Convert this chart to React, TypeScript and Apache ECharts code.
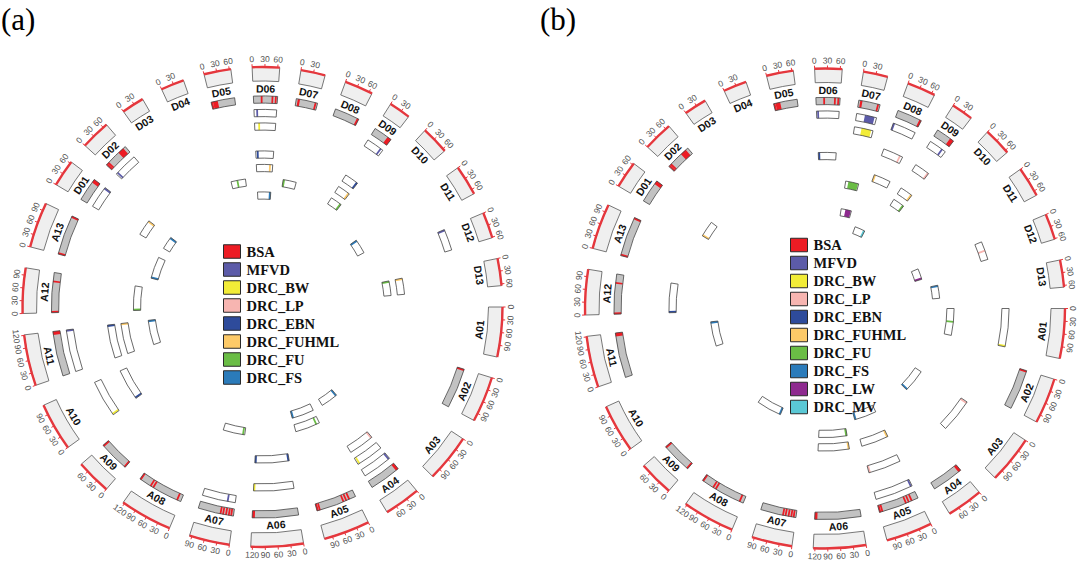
import React, { useEffect, useRef } from 'react';
import * as echarts from 'echarts';

// ---------- data ----------
const CHROMS = ['A01','A02','A03','A04','A05','A06','A07','A08','A09','A10','A11','A12','A13',
  'D01','D02','D03','D04','D05','D06','D07','D08','D09','D10','D11','D12','D13'];
const LENGTHS = [117.8,108.4,113.1,85.6,109.5,124.1,95.7,124.0,83.0,114.1,121.3,107.3,107.9,
  63.9,70.2,53.5,55.3,63.8,64.6,57.8,67.6,51.4,66.5,71.6,61.5,64.2];
const GAP = 50;
const TICK_LABEL_STEP = 30;

const TRACKS_A = ['BSA','MFVD','DRC_BW','DRC_LP','DRC_EBN','DRC_FUHML','DRC_FU','DRC_FS'];
const TRACKS_B = ['BSA','MFVD','DRC_BW','DRC_LP','DRC_EBN','DRC_FUHML','DRC_FU','DRC_FS','DRC_LW','DRC_MV'];

type Band = [string, number, number];

const BSA_BANDS: Band[] = [
  ['D01',54,63.9],
  ['D02',2,4],['D02',7,9],['D02',46,63],
  ['D05',1,2.5],['D05',5,18],
  ['D06',21,23],['D06',50,52],['D06',58,62],
  ['D07',4,10],['D07',51,54],
  ['D08',62,67.6],
  ['D09',40,51.4],
  ['A02',0,5],
  ['A04',0,8],
  ['A05',17,20],['A05',26,28],['A05',34,36],['A05',100,103],['A05',106,109.5],
  ['A06',117,124.1],
  ['A07',5,7],['A07',11.5,13.5],['A07',19,21],['A07',27,29],['A07',34,36],
  ['A08',9,12],['A08',80,84],['A08',88,92],['A08',121,124],
  ['A09',0,2],['A09',81,83],
  ['A11',112,121.3],
  ['A12',0,1.5],['A12',82,85],
  ['A13',0,2],['A13',105,107.9],
];

const A_MFVD: Band[] = [['D01',59,63],['D02',4,7],['D06',8,10],['D09',42,46],['D12',1,4],['A04',2,5],['A07',20,24],['A11',118,121]];
const A_BW: Band[] = [['D06',13,15],['A04',78,83],['A06',120,123],['A10',2,5]];
const A_LP: Band[] = [['A04',2,5]];
const A_EBN: Band[] = [['D06',5,9],['D09',46,50],['A06',1,3],['A06',121,123],['A10',2,5],['A11',118,121]];
const A_FUHML: Band[] = [['D01',58,62],['D06',52,56],['D09',45,49],['D13',1,4],['A11',118,121]];
const A_FU: Band[] = [['D05',26,30],['D07',2,6],['D09',45,49],['D13',1,4],['A05',12,18],['A07',5,10],['A12',0,3]];
const A_FS: Band[] = [['D01',58,62],['D06',60,63],['D11',2,5],['A04',3,6],['A05',103,108],['A11',118,121],['A13',2,5]];

const B_MFVD: Band[] = [['D06',3,6],['D07',24,52],['D08',1,4],['D09',38,42],['A05',2,6]];
const B_BW: Band[] = [['D07',22,52],['A01',113,117]];
const B_LP: Band[] = [['D08',56,60],['D09',48,50],['D12',30,32],['A03',2,6],['A05',104,108]];
const B_EBN: Band[] = [['D06',2,5],['A12',1,4]];
const B_FUHML: Band[] = [['D01',1,5],['D08',1,4],['D09',46,50],['A05',2,6],['A06',1,4]];
const B_FU: Band[] = [['D07',12,55],['D09',46,50],['A01',56,60],['A06',1,4]];
const B_FS: Band[] = [['D13',2,5],['A03',108,112],['A05',104,108],['A08',2,6],['A11',117,120]];
const B_LW: Band[] = [['D07',24,55],['D12',58,61]];
const B_MV: Band[] = [['D08',60,66]];

const BANDS_A: Band[][] = [BSA_BANDS, A_MFVD, A_BW, A_LP, A_EBN, A_FUHML, A_FU, A_FS];
const BANDS_B: Band[][] = [BSA_BANDS, B_MFVD, B_BW, B_LP, B_EBN, B_FUHML, B_FU, B_FS, B_LW, B_MV];

const COLORS: Record<string, string> = {
  BSA: '#ed1c24', MFVD: '#5c5ba8', DRC_BW: '#f2ec37', DRC_LP: '#f7b5b1', DRC_EBN: '#2e4b9b',
  DRC_FUHML: '#fdca68', DRC_FU: '#6abd45', DRC_FS: '#2b7bba', DRC_LW: '#8e2a8f', DRC_MV: '#5ac8d5',
};

// ---------- geometry helpers ----------
const STARTS: number[] = [];
{
  let acc = 0;
  LENGTHS.forEach((l, i) => { STARTS[i] = acc; acc += l + GAP; });
}
const TOTAL = LENGTHS.reduce((a, b) => a + b, 0) + GAP * LENGTHS.length;

const R_IDEO_IN = 226;
const R_IDEO_OUT = 240;
const R_TICKLABEL = 248;
const R_NAME = 218.5;
const TRACK_R = [207.5, 194, 180.5, 166.5, 152.5, 139, 125.5, 111.5, 97.5, 83.5];
const HALF = 3.6;

function polarPt(params: any, api: any, r: number, v: number) {
  const cs = params.coordSys;
  const p = api.coord([r, v]);
  const dx = p[0] - cs.cx, dy = p[1] - cs.cy;
  return { x: p[0], y: p[1], r: Math.hypot(dx, dy), a: Math.atan2(dy, dx) };
}

function sector(params: any, api: any, r0: number, r1: number, v0: number, v1: number, minPx = 0, clampV?: [number, number]) {
  const cs = params.coordSys;
  const pin = polarPt(params, api, r0, v0);
  const p0 = polarPt(params, api, r1, v0);
  const p1 = polarPt(params, api, r1, v1);
  let s = p0.a, e = p1.a;
  if (e < s) e += Math.PI * 2;
  if (minPx && (e - s) * p1.r < minPx) {
    const m = (s + e) / 2, h = minPx / p1.r / 2;
    s = m - h; e = m + h;
    if (clampV) {
      const c0 = polarPt(params, api, r1, clampV[0]).a;
      let c1 = polarPt(params, api, r1, clampV[1]).a;
      if (c1 < c0) c1 += Math.PI * 2;
      while (s < c0 - Math.PI) { s += Math.PI * 2; e += Math.PI * 2; }
      while (s > c0 + Math.PI) { s -= Math.PI * 2; e -= Math.PI * 2; }
      if (s < c0) { e += c0 - s; s = c0; }
      if (e > c1) { s -= e - c1; e = c1; }
    }
  }
  return { cx: cs.cx, cy: cs.cy, r0: pin.r, r: p1.r, startAngle: s, endAngle: e, clockwise: true };
}

function labelRotation(thetaRad: number, lowerHalf: boolean) {
  let t = thetaRad * 180 / Math.PI;
  if (t < 0) t += 360;
  const deg = lowerHalf ? 90 - t : -(t + 90);
  return deg * Math.PI / 180;
}

function isLower(params: any, api: any, v: number) {
  let t = polarPt(params, api, 200, v).a * 180 / Math.PI;
  if (t < 0) t += 360;
  return t >= 0 && t < 180;
}

function ideogramSeries(polarIndex: number) {
  return {
    type: 'custom',
    coordinateSystem: 'polar',
    polarIndex,
    silent: true,
    data: CHROMS.map((_, i) => [i]),
    renderItem: (params: any, api: any) => {
      const i = params.dataIndex;
      const s = STARTS[i];
      const len = LENGTHS[i];
      const e = s + len;
      const children: any[] = [];
      const box = sector(params, api, R_IDEO_IN, R_IDEO_OUT, s, e);
      children.push({ type: 'sector', shape: box, style: { fill: '#efefef', stroke: '#555', lineWidth: 0.8 } });
      children.push({
        type: 'arc',
        shape: { cx: box.cx, cy: box.cy, r: box.r, startAngle: box.startAngle, endAngle: box.endAngle, clockwise: true },
        style: { stroke: '#e5373d', lineWidth: 2.4, fill: 'none' },
      });
      for (let v = 0; v <= len + 1e-6; v += TICK_LABEL_STEP) {
        const a = polarPt(params, api, R_IDEO_OUT, s + v);
        const b = polarPt(params, api, R_IDEO_OUT + 3, s + v);
        children.push({ type: 'line', shape: { x1: a.x, y1: a.y, x2: b.x, y2: b.y }, style: { stroke: '#e5373d', lineWidth: 1 } });
      }
      const lower = isLower(params, api, s + len / 2);
      for (let v = 0; v <= len + 1e-6; v += TICK_LABEL_STEP) {
        const p = polarPt(params, api, R_TICKLABEL, s + v);
        children.push({
          type: 'text', x: p.x, y: p.y, rotation: labelRotation(p.a, lower),
          style: { text: String(v), fill: '#505050', fontSize: 8.5, fontFamily: 'Liberation Sans, Arial, sans-serif', align: 'center', verticalAlign: 'middle' },
        });
      }
      const pn = polarPt(params, api, R_NAME, s + len / 2);
      children.push({
        type: 'text', x: pn.x, y: pn.y, rotation: labelRotation(pn.a, lower),
        style: { text: CHROMS[i], fill: '#111', fontSize: 10.5, fontWeight: 'bold', fontFamily: 'Liberation Sans, Arial, sans-serif', align: 'center', verticalAlign: 'middle' },
      });
      return { type: 'group', children };
    },
  };
}

function trackSeries(polarIndex: number, trackIdx: number, name: string, bands: Band[]) {
  const chromList: string[] = [];
  bands.forEach((b) => { if (!chromList.includes(b[0])) chromList.push(b[0]); });
  const items = chromList.map((c) => ({ chrom: CHROMS.indexOf(c), bands: bands.filter((b) => b[0] === c) }));
  const rc = TRACK_R[trackIdx];
  const isBSA = name === 'BSA';
  const color = COLORS[name];
  return {
    type: 'custom',
    name,
    coordinateSystem: 'polar',
    polarIndex,
    silent: true,
    itemStyle: { color },
    data: items.map((it) => [it.chrom]),
    renderItem: (params: any, api: any) => {
      const it = items[params.dataIndex];
      const s = STARTS[it.chrom];
      const e = s + LENGTHS[it.chrom];
      const box = sector(params, api, rc - HALF, rc + HALF, s, e);
      const children: any[] = [];
      children.push({ type: 'sector', shape: box, style: { fill: isBSA ? '#c2c2c2' : '#ffffff' } });
      it.bands.forEach((b) => {
        const v0 = s + Math.max(0, b[1]);
        const v1 = s + Math.min(LENGTHS[it.chrom], b[2]);
        children.push({ type: 'sector', shape: sector(params, api, rc - HALF, rc + HALF, v0, v1, 1.8, [s, e]), style: { fill: color } });
      });
      children.push({ type: 'sector', shape: box, style: { fill: 'none', stroke: '#444', lineWidth: 0.8 } });
      return { type: 'group', children };
    },
  };
}

const legendBase = {
  orient: 'vertical',
  icon: 'rect',
  itemWidth: 17,
  itemHeight: 13.5,
  itemGap: 3,
  padding: 0,
  selectedMode: false,
  itemStyle: { borderColor: '#2a2a2a', borderWidth: 1 },
  textStyle: { fontFamily: 'Liberation Serif, Times New Roman, serif', fontWeight: 'bold', fontSize: 14.5, color: '#111', padding: [0, 0, 0, 1] },
};

const titleStyle = { fontFamily: 'Liberation Serif, Times New Roman, serif', fontSize: 31, fontWeight: 'normal', color: '#000', lineHeight: 36 };

export default function App() {
  const ref = useRef<HTMLDivElement>(null);
  useEffect(() => {
    if (!ref.current) return;
    const chart = echarts.init(ref.current, undefined, { renderer: 'svg' });
    const series: any[] = [ideogramSeries(0), ideogramSeries(1)];
    TRACKS_A.forEach((n, i) => series.push(trackSeries(0, i, n, BANDS_A[i])));
    TRACKS_B.forEach((n, i) => series.push(trackSeries(1, i, n, BANDS_B[i])));
    chart.setOption({
      animation: false,
      backgroundColor: '#ffffff',
      title: [
        { text: '(a)', left: 1, top: 1, padding: 0, textStyle: titleStyle },
        { text: '(b)', left: 540, top: 1, padding: 0, textStyle: titleStyle },
      ],
      polar: [
        { center: [262.5, 307], radius: [0, 260] },
        { center: [825, 308.5], radius: [0, 260] },
      ],
      radiusAxis: [
        { polarIndex: 0, type: 'value', min: 0, max: 260, show: false },
        { polarIndex: 1, type: 'value', min: 0, max: 260, show: false },
      ],
      angleAxis: [
        { polarIndex: 0, type: 'value', min: 0, max: TOTAL, startAngle: 0, clockwise: true, show: false },
        { polarIndex: 1, type: 'value', min: 0, max: TOTAL, startAngle: 0, clockwise: true, show: false },
      ],
      legend: [
        { ...legendBase, data: TRACKS_A, left: 223, top: 244 },
        { ...legendBase, data: TRACKS_B, left: 790, top: 237.5 },
      ],
      series,
    });
    return () => chart.dispose();
  }, []);
  return <div ref={ref} style={{ position: 'fixed', left: 0, top: 0, width: 1080, height: 567, background: '#fff' }} />;
}
